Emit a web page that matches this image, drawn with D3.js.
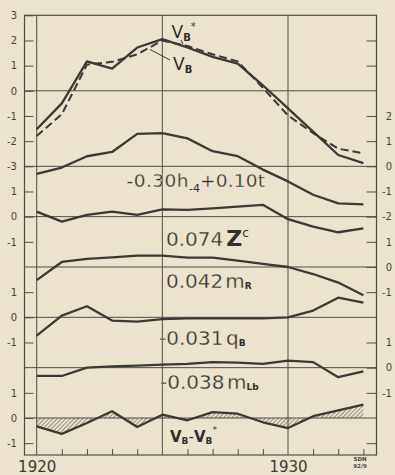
<!DOCTYPE html>
<html><head><meta charset="utf-8">
<script src="https://cdn.jsdelivr.net/npm/d3@7"></script>
<style>
html,body{margin:0;padding:0;background:#ebe3cd;}
svg{display:block;}
</style></head><body>
<svg id="chart" width="395" height="475"></svg>
<script>
// ---- data ----
const years = [1920,1921,1922,1923,1924,1925,1926,1927,1928,1929,1930,1931,1932,1933];
const vBStar = [-1.53,-0.50,1.17,0.88,1.72,2.05,1.72,1.35,1.08,0.22,-0.70,-1.62,-2.55,-2.87];
const vB     = [-1.80,-0.93,1.04,1.15,1.45,2.00,1.78,1.45,1.17,0.12,-0.98,-1.68,-2.30,-2.48];
const hTerm  = [-0.30,-0.05,0.40,0.57,1.29,1.32,1.11,0.60,0.40,-0.13,-0.60,-1.13,-1.47,-1.51];
const zTerm  = [0.20,-0.20,0.07,0.20,0.07,0.29,0.27,0.33,0.40,0.47,-0.10,-0.40,-0.62,-0.47];
const mRTerm = [-0.52,0.20,0.32,0.38,0.45,0.45,0.37,0.37,0.25,0.12,0.00,-0.28,-0.62,-1.12];
const qBTerm = [-0.73,0.07,0.44,-0.13,-0.17,-0.07,-0.04,-0.04,-0.04,-0.04,0.00,0.27,0.78,0.58];
const mLbTerm= [-0.33,-0.33,0.00,0.05,0.08,0.12,0.15,0.22,0.20,0.15,0.28,0.22,-0.38,-0.15];
const diffTerm=[-0.33,-0.63,-0.20,0.27,-0.36,0.13,-0.09,0.23,0.17,-0.17,-0.40,0.07,0.30,0.53];
const ticksA = [3,2,1,0,-1,-2,-3];
const ticksARight = [2,1];
const ticksB = [2,1,0,-1,-2];
const ticksSmall = [1,0,-1];
const ticksGRight = [-1];
const yearLabels = [1920,1930];

// ---- layout ----
const W=395,H=475;
const bg='#ebe3cd';
const frame={left:24.5,right:376.5,top:15.3,bottom:455};
const ink="#3a3935", gridInk="#4e4d49";
const svg=d3.select('#chart');
svg.append('rect').attr('width',W).attr('height',H).attr('fill',bg);

const x=d3.scaleLinear().domain([1920,1930]).range([36.7,288]);
const stack=d3.scaleLinear().domain([0,17.47]).range([frame.top,frame.bottom]);
const panelScale=off=>d3.scaleLinear().domain([0,1]).range([stack(off),stack(off-1)]);
const yA=panelScale(3), yB=panelScale(6), yC=panelScale(8), yD=panelScale(10),
      yE=panelScale(12), yF=panelScale(14), yG=panelScale(16);

// hatch pattern
const defs=svg.append('defs');
const pat=defs.append('pattern').attr('id','hatch').attr('patternUnits','userSpaceOnUse')
  .attr('width',3).attr('height',3).attr('patternTransform','rotate(45)');
pat.append('line').attr('x1',0).attr('y1',0).attr('x2',0).attr('y2',3)
  .attr('stroke',ink).attr('stroke-width',1);

// grid: panel zero lines
const g=svg.append('g');
[yA,yB,yC,yD,yE,yF,yG].forEach(s=>{
  g.append('line').attr('x1',frame.left).attr('x2',frame.right)
   .attr('y1',s(0)).attr('y2',s(0)).attr('stroke',gridInk).attr('stroke-width',1);
});
yearLabels.concat([1925]).forEach(yr=>{
  g.append('line').attr('x1',x(yr)).attr('x2',x(yr)).attr('y1',frame.top).attr('y2',frame.bottom)
   .attr('stroke',gridInk).attr('stroke-width',1);
});
g.append('rect').attr('x',frame.left).attr('y',frame.top)
 .attr('width',frame.right-frame.left).attr('height',frame.bottom-frame.top)
 .attr('fill','none').attr('stroke',gridInk).attr('stroke-width',1.2);

// axes
function styleAxis(sel,fs){
  sel.select('.domain').remove();
  sel.selectAll('.tick line').attr('stroke',gridInk).attr('stroke-width',1);
  sel.selectAll('.tick text').attr('fill','#45443f').attr('font-family','DejaVu Sans')
     .attr('font-size',fs||10);
}
const fmt=d=>String(d);
[[yA,ticksA],[yC,ticksSmall],[yE,ticksSmall],[yG,ticksSmall]].forEach(([s,t])=>{
  const a=svg.append('g').attr('transform',`translate(${frame.left},0)`)
    .call(d3.axisLeft(s).tickValues(t).tickSize(-9).tickPadding(7.5).tickFormat(fmt));
  styleAxis(a);
});
[[yA,ticksARight,false],[yB,ticksB,true],[yD,ticksSmall,true],[yF,ticksSmall,true],[yG,ticksGRight,false]].forEach(([s,t,lab])=>{
  const a=svg.append('g').attr('transform',`translate(${frame.right},0)`)
    .call(d3.axisRight(s).tickValues(t).tickSize(-10).tickPadding(14).tickFormat(lab?fmt:()=>''));
  styleAxis(a);
  a.selectAll('.tick text').attr('text-anchor','end').attr('x',15.5);
});
const bt=svg.append('g').attr('transform',`translate(0,${frame.bottom})`)
  .call(d3.axisBottom(x).tickValues(years.filter(y=>yearLabels.indexOf(y)<0&&y!==1925)).tickSize(-6).tickFormat(''));
styleAxis(bt);
const bl=svg.append('g').attr('transform',`translate(0,${frame.bottom})`)
  .call(d3.axisBottom(x).tickValues(yearLabels).tickSize(0).tickPadding(6).tickFormat(d3.format('d')));
styleAxis(bl,15);
bl.selectAll('.tick text').attr('fill','#3a3935');

// hatched area for difference
svg.append('path').datum(diffTerm)
  .attr('d',d3.area().x((d,i)=>x(years[i])).y0(yG(0)).y1(d=>yG(d)))
  .attr('fill','url(#hatch)').attr('stroke','none');

// curves
function curve(data,s,dash){
  svg.append('path').datum(data)
    .attr('d',d3.line().x((d,i)=>x(years[i])).y(d=>s(d)))
    .attr('fill','none').attr('stroke',ink).attr('stroke-width',dash?2:2.3)
    .attr('stroke-linejoin','round').attr('stroke-dasharray',dash?'8,4':null);
}
curve(vB,yA,true);
curve(vBStar,yA,false);
curve(hTerm,yB);
curve(zTerm,yC);
curve(mRTerm,yD);
curve(qBTerm,yE);
curve(mLbTerm,yF);
curve(diffTerm,yG);

// labels
const F='DejaVu Sans';
function label(px,py,parts,opts){
  const t=svg.append('text').attr('x',px).attr('y',py).attr('font-family',F)
    .attr('fill','#2f2e2b').attr('font-size',opts&&opts.fs||20);
  parts.forEach(p=>{
    const ts=t.append('tspan').text(p.t);
    if(p.fs) ts.attr('font-size',p.fs);
    if(p.dy) ts.attr('dy',p.dy);
    if(p.dx) ts.attr('dx',p.dx);
    if(p.fw) ts.attr('font-weight',p.fw);
    if(p.ls!=null) ts.attr('letter-spacing',p.ls);
    if(p.thin) ts.attr('stroke',bg).attr('stroke-width',p.thin);
  });
  return t;
}
const th=0.3;
// V_B* and V_B in top panel
label(171.5,38,[{t:'V',fs:17},{t:'B',fs:10,dy:3,fw:'bold'},{t:'*',fs:10,dy:-11}]);
svg.append('line').attr('x1',181).attr('y1',40).attr('x2',183).attr('y2',44.5).attr('stroke',ink).attr('stroke-width',1);
label(173,70,[{t:'V',fs:17},{t:'B',fs:10,dy:3,fw:'bold'}]);
svg.append('line').attr('x1',170).attr('y1',60).attr('x2',150).attr('y2',49.5).attr('stroke',ink).attr('stroke-width',1);

label(126.5,187,[{t:'-0.30h',ls:0.5,thin:th},{t:'-4',fs:11,dy:5},{t:'+0.10t',dy:-5,ls:0.2,thin:th}],{fs:18.5});
label(166,246,[{t:'0.074',thin:th},{t:'Z',fs:22,fw:'bold',dx:3},{t:'c',fs:12,dy:-9}]);
label(166,287.5,[{t:'0.042',thin:th},{t:'m',dx:2,thin:th},{t:'R',fs:9,dy:1,fw:'bold'}]);
label(159,345,[{t:'-0.031',thin:th},{t:'q',dx:2.5,thin:th},{t:'B',fs:9,dy:1,fw:'bold'}]);
label(160,388.5,[{t:'-0.038',thin:th},{t:'m',dx:2.5,thin:th},{t:'Lb',fs:9,dy:1,fw:'bold'}]);
label(170,441.5,[{t:'V',fs:15,fw:'bold'},{t:'B',fs:9,dy:2,fw:'bold'},{t:'-',fs:15,dy:-2},{t:'V',fs:15,fw:'bold'},{t:'B',fs:9,dy:2,fw:'bold'},{t:'*',fs:9,dy:-11}]);

// SDN mark
svg.append('text').attr('x',360).attr('y',461).attr('text-anchor','middle').attr('font-family',F)
  .attr('font-size',5.5).attr('font-weight','bold').attr('fill','#45443f').text('SDN');
svg.append('text').attr('x',360).attr('y',467.5).attr('text-anchor','middle').attr('font-family',F)
  .attr('font-size',5.5).attr('font-weight','bold').attr('fill','#45443f').text('92/9');
</script>
</body></html>
